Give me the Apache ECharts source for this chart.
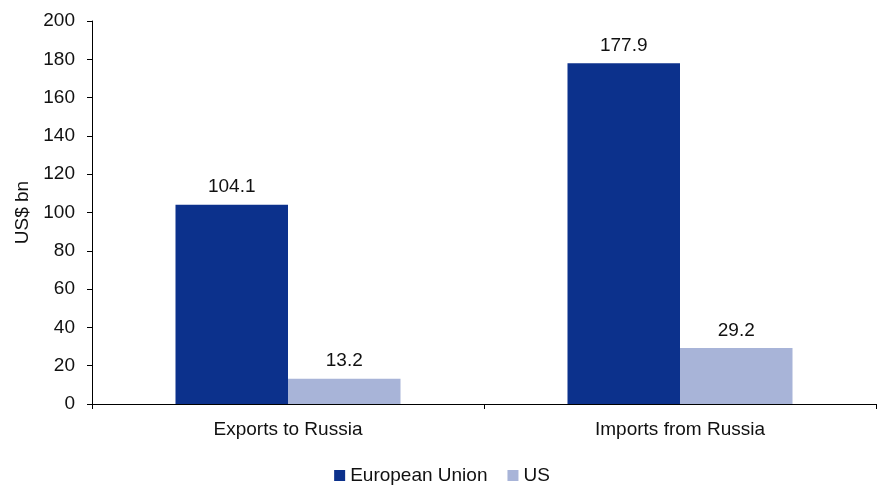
<!DOCTYPE html>
<html><head><meta charset="utf-8">
<script src="https://cdn.jsdelivr.net/npm/echarts@6/dist/echarts.min.js"></script>
<style>html,body{margin:0;padding:0;background:#fff}#c{width:884px;height:486px}</style>
</head><body><div id="c"></div>
<script>
const categories = ['Exports to Russia', 'Imports from Russia'];
const euValues = [104.1, 177.9];
const usValues = [13.2, 29.2];
const seriesNames = ['European Union', 'US'];
const yAxisName = 'US$ bn';

const font = 'Liberation Sans, Arial, sans-serif';
const fs = 19;
const chart = echarts.init(document.getElementById('c'));
const label = {show: true, position: 'top', distance: 8, color: '#111', fontSize: fs, fontFamily: font, formatter: p => p.value.toFixed(1)};
chart.setOption({
  animation: false,
  textStyle: {fontFamily: font},
  grid: {left: 92, right: 8, top: 21, bottom: 82, containLabel: false},
  legend: {
    bottom: -4, left: 'center', itemWidth: 11, itemHeight: 11, itemGap: 20,
    icon: 'rect',
    textStyle: {fontSize: fs, color: '#111', fontFamily: font},
    data: seriesNames
  },
  xAxis: {
    type: 'category', data: categories,
    axisLine: {lineStyle: {color: '#000', width: 1}},
    axisTick: {show: true, length: 5, lineStyle: {color: '#000'}},
    axisLabel: {fontSize: fs, color: '#111', margin: 16, fontFamily: font}
  },
  yAxis: {
    type: 'value', min: 0, max: 200, interval: 20,
    name: yAxisName, nameLocation: 'middle', nameGap: 59, nameRotate: 90,
    nameTextStyle: {fontSize: fs, color: '#111', fontFamily: font},
    axisLine: {show: true, lineStyle: {color: '#000', width: 1}},
    axisTick: {show: true, length: 5, lineStyle: {color: '#000'}},
    axisLabel: {fontSize: fs, color: '#111', margin: 17, fontFamily: font},
    splitLine: {show: false}
  },
  series: [
    {name: seriesNames[0], type: 'bar', data: euValues, barGap: '0%', barCategoryGap: '42.6%', itemStyle: {color: '#0C318C'}, label},
    {name: seriesNames[1], type: 'bar', data: usValues, itemStyle: {color: '#A8B4D8'}, label}
  ]
});
</script></body></html>
